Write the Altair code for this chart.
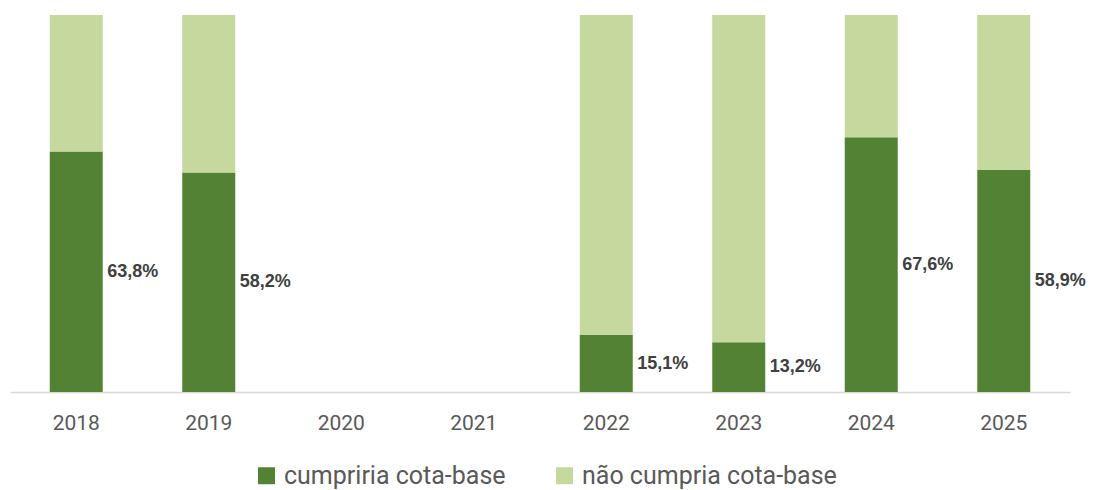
import altair as alt
import pandas as pd

years = ["2018", "2019", "2020", "2021", "2022", "2023", "2024", "2025"]
cumpre = [63.8, 58.2, None, None, 15.1, 13.2, 67.6, 58.9]
series = ["cumpriria cota-base", "não cumpria cota-base"]
colors = ["#548235", "#C5D89E"]

rows = []
lab_rows = []
for y, v in zip(years, cumpre):
    if v is None:
        continue
    rows.append({"ano": y, "serie": series[0], "valor": v, "ordem": 0})
    rows.append({"ano": y, "serie": series[1], "valor": round(100 - v, 1), "ordem": 1})
    lab_rows.append({"ano": y, "valor": v, "rotulo": f"{v:.1f}".replace(".", ",") + "%"})

df = pd.DataFrame(rows)
dl = pd.DataFrame(lab_rows)

xscale = alt.Scale(domain=years, paddingInner=0.6, paddingOuter=0.3)

xenc = alt.X(
    "ano:N",
    scale=xscale,
    axis=alt.Axis(
        title=None,
        labelAngle=0,
        ticks=False,
        domainColor="#D9D9D9",
        domainWidth=1.5,
        labelFont="Roboto",
        labelFontSize=21,
        labelColor="#595959",
        labelPadding=20,
    ),
)

bars = alt.Chart(df).mark_bar().encode(
    x=xenc,
    y=alt.Y("valor:Q", stack="zero", scale=alt.Scale(domain=[0, 100]), axis=None),
    color=alt.Color(
        "serie:N",
        scale=alt.Scale(domain=series, range=colors),
        legend=alt.Legend(
            title=None,
            orient="none",
            direction="horizontal",
            legendX=244,
            legendY=448,
            symbolType="square",
            symbolSize=289,
            symbolStrokeWidth=0,
            labelFont="Roboto",
            labelFontSize=25,
            labelColor="#595959",
            labelOffset=5,
            labelLimit=500,
            columnPadding=46,
            padding=0,
        ),
    ),
    order=alt.Order("ordem:Q"),
)

labels = alt.Chart(dl).transform_calculate(mid="datum.valor / 2").mark_text(
    align="left",
    baseline="middle",
    dx=31,
    font="Liberation Sans",
    fontSize=18,
    fontWeight="bold",
    color="#404040",
).encode(
    x=alt.X("ano:N", scale=xscale),
    y=alt.Y("mid:Q", scale=alt.Scale(domain=[0, 100])),
    text="rotulo:N",
)

chart = (
    alt.layer(bars, labels)
    .properties(
        width=1060,
        height=377,
        autosize=alt.AutoSizeParams(type="none"),
        padding={"left": 2, "top": 7, "right": 18, "bottom": 98},
        background="white",
    )
    .configure_view(strokeWidth=0, stroke="transparent")
)

chart.save("out.html", embed_options={"renderer": "svg", "actions": False})
